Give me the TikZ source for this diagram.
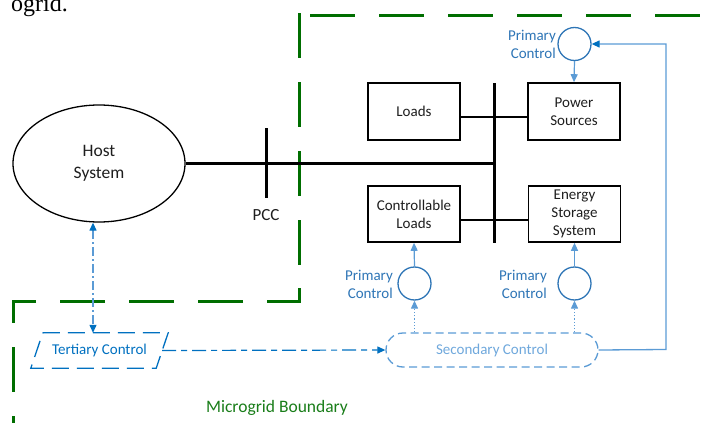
\documentclass[tikz,border=0pt]{standalone}
\usepackage{fontspec}
\setmainfont{Carlito}
\newfontfamily\serifx{Liberation Serif}
\usetikzlibrary{arrows.meta,calc,shapes.geometric}
\definecolor{bgreen}{RGB}{0,110,0}
\definecolor{tgreen}{RGB}{25,125,25}
\definecolor{pblue}{RGB}{46,117,182}
\definecolor{lblue}{RGB}{91,155,213}
\definecolor{dblue}{RGB}{0,112,192}
\definecolor{sblue}{RGB}{111,168,220}
\definecolor{ink}{RGB}{30,30,30}
\begin{document}
\begin{tikzpicture}[x=1pt,y=-1pt,
  box/.style={draw=black, line width=1.6pt, minimum width=92pt, align=center, text=ink,
    font=\fontsize{15}{17.8}\selectfont, inner sep=0pt},
  pc/.style={circle, draw=pblue, line width=1.3pt, minimum size=33pt, inner sep=0pt},
  pclabel/.style={align=right, text=pblue, font=\fontsize{15}{18.3}\selectfont, inner sep=0pt, anchor=east},
  tip/.style={-{Triangle[length=8pt,width=7pt]}},
  wire/.style={line width=2.3pt},
  boundary/.style={draw=bgreen, line width=3pt, dash pattern=on 45pt off 24pt},
]
\useasboundingbox (0,0) rectangle (702,423);

% caption fragment
\node[anchor=base east, font=\serifx\fontsize{24}{28}\selectfont, inner sep=0pt] (cap) at (68,11) {ogrid.};

% microgrid boundary
\draw[boundary] (310,15) -- (702,15);
\draw[boundary] (299,13) -- (299,288);
\draw[boundary] (299,288) -- (299,301) -- (13,301) -- (13,423);
\node[text=tgreen, font=\fontsize{17.5}{21}\selectfont, inner sep=0pt] (mb) at (277,408) {Microgrid Boundary};

% host system
\node[ellipse, draw=black, line width=1.3pt, minimum width=172pt, minimum height=117pt, inner sep=0pt,
  align=center, text=ink, font=\fontsize{17.5}{21.5}\selectfont] (host) at (99,163.5) {Host\\System};

% buses
\coordinate (bt) at (494,83);
\coordinate (bb) at (494,243);
\coordinate (lj) at (494,117);
\coordinate (cj) at (494,220);
\coordinate (pcct) at (266,128);
\coordinate (pccb) at (266,198);
\node[text=ink, font=\fontsize{17}{20}\selectfont, inner sep=0pt] (pcc) at (266,215) {PCC};

% boxes
\node[box, minimum height=57pt] (loads) at (414,111.5) {Loads};
\node[box, minimum height=57pt] (ps) at (574,111.5) {Power\\Sources};
\node[box, minimum height=56pt] (cl) at (414,214) {Controllable\\Loads};
\node[box, minimum height=56pt] (ess) at (574.5,214) {Energy\\Storage\\System};

\draw[line width=3pt] (bt) -- (bb);
\draw[line width=3pt] (pcct) -- (pccb);
\draw[wire] (host.east) -- (host.east -| bt);
\draw[wire] (loads.east |- lj) -- (ps.west |- lj);
\draw[wire] (cl.east |- cj) -- (ess.west |- cj);

% primary controls
\node[pc] (pc1) at (574.5,44) {};
\node[pc] (pc2) at (414.5,283.5) {};
\node[pc] (pc3) at (574.5,283.5) {};
\node[pclabel] (l1) at (556,44.5) {Primary\\Control};
\node[pclabel] (l2) at (393,284.5) {Primary\\Control};
\node[pclabel] (l3) at (547,284.5) {Primary\\Control};

\draw[lblue, line width=1.2pt, tip] (pc1.south) -- (ps.north);
\draw[lblue, line width=1.2pt, tip] (pc2.north) -- (cl.south);
\draw[lblue, line width=1.2pt, tip] (pc3.north) -- (ess.south);

% secondary control
\node[draw=lblue, line width=1.3pt, dash pattern=on 8pt off 4.5pt, rounded corners=17pt,
  minimum width=212pt, minimum height=34pt, inner sep=0pt, text=sblue,
  font=\fontsize{15}{18}\selectfont] (sec) at (492,350) {Secondary Control};
\draw[lblue, line width=1.2pt, dotted, tip] (sec.north -| pc2) -- (pc2.south);
\draw[lblue, line width=1.2pt, dotted, tip] (sec.north -| pc3) -- (pc3.south);
\coordinate (fb) at (666,349.5);
\draw[lblue, line width=1.3pt, -{Triangle[length=8pt,width=7pt,color=dblue]}] (sec.east) -- (fb) |- (pc1.east);

% tertiary control
\node[minimum width=125pt, minimum height=35pt, inner sep=0pt, text=dblue,
  font=\fontsize{15}{18}\selectfont] (ter) at (99.5,350.5) {Tertiary Control};
\draw[dblue, line width=1.3pt, dash pattern=on 17pt off 8pt]
  ($(ter.north west)+(6,0)$) -- ($(ter.north east)+(6,0)$) -- ($(ter.south east)+(-6,0)$)
  -- ($(ter.south west)+(-6,0)$) -- cycle;
\coordinate (ta) at ($(ter.north)+(-6.5,0)$);
\draw[lblue, line width=1.2pt, dash pattern=on 9pt off 3pt on 2pt off 3pt,
  {Triangle[length=8pt,width=7pt,color=dblue]}-{Triangle[length=8pt,width=7pt,color=dblue]}]
  (host.south -| ta) -- (ta);
\draw[dblue, line width=1.2pt, dash pattern=on 14pt off 5pt on 6pt off 5pt, tip] (ter.east) -- (sec.west);
\end{tikzpicture}
\end{document}
